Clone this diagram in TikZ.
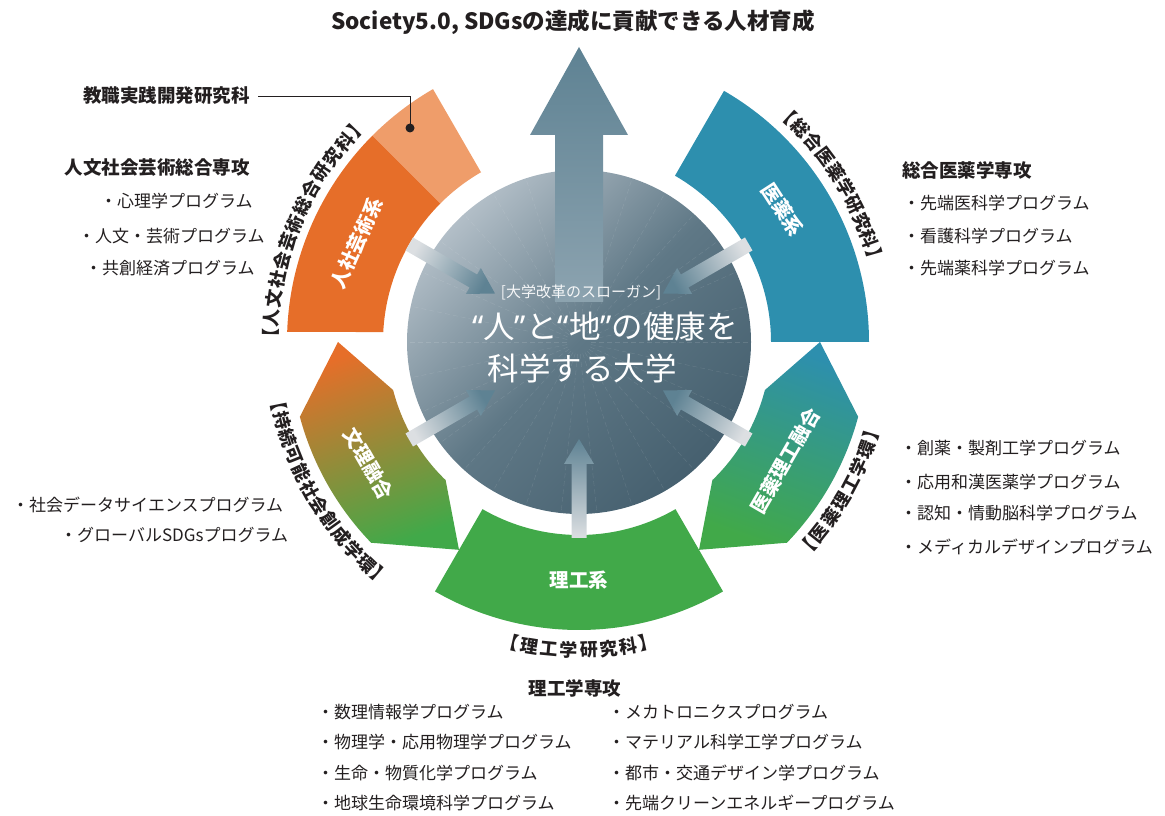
\documentclass[tikz,border=0pt]{standalone}
\usepackage{fontspec}
\setmainfont{Noto Sans CJK JP}
\newfontfamily\latinfont{Noto Sans}
\usetikzlibrary{calc}

\definecolor{orangec}{HTML}{E66E29}
\definecolor{lightorangec}{HTML}{EF9D6A}
\definecolor{bluec}{HTML}{2D8FAE}
\definecolor{greenc}{HTML}{41A949}
\definecolor{arrowc}{HTML}{5E8293}
\definecolor{stubc}{HTML}{DCDFE2}
\definecolor{txtc}{HTML}{231F20}
\definecolor{lightc}{HTML}{B2BEC7}
\definecolor{midc}{HTML}{5F7886}
\definecolor{darkc}{HTML}{46606F}

\tikzset{
  prog/.style={anchor=west, inner sep=0pt, text=txtc, font=\fontsize{17}{20}\selectfont},
  head/.style={inner sep=0pt, text=txtc, font=\bfseries\fontsize{18.5}{22}\selectfont},
  unit/.style={text=white, inner sep=0pt, font=\bfseries\fontsize{19.5}{22}\selectfont},
  ringchar/.style={inner sep=0pt, text=txtc, font=\bfseries\fontsize{18}{20}\selectfont},
}

% radius, first angle, signed step, rotation offset, characters
\newcommand{\ringlabel}[5]{%
  \foreach \c [count=\i from 0, evaluate=\i as \ang using #2+(#3)*\i] in {#5}
    \node[ringchar, rotate={\ang#4}] at (\ang:#1) {\c};}

\begin{document}
\begin{tikzpicture}[x=1pt, y=1pt]
  \useasboundingbox (0,0) rectangle (1165,816);

  % -=-=-=-=- TITLE -=-=-=-=-
  \node[head, font=\bfseries\fontsize{22.5}{26}\selectfont] (title) at (573,794) {Society5.0, SDGsの達成に貢献できる人材育成};

  \begin{scope}[shift={(579,474)}]
    % -=-=-=-=- SECTORS -=-=-=-=-
    \fill[orangec] (135:292) arc[start angle=135, end angle=178, radius=292]
      -- (177.1:196) arc[start angle=177.1, end angle=135, radius=196] -- cycle;
    \fill[lightorangec] (120:292) arc[start angle=120, end angle=135, radius=292]
      -- (135:196) arc[start angle=135, end angle=120, radius=196] -- cycle;
    \fill[bluec] (0:290) arc[start angle=0, end angle=60, radius=290]
      -- (60:192) arc[start angle=60, end angle=0, radius=192] -- cycle;
    \fill[greenc] (-120:288) arc[start angle=-120, end angle=-60, radius=288]
      -- (-60:193) arc[start angle=-60, end angle=-120, radius=193] -- cycle;
    \shade[top color=bluec, bottom color=greenc, shading angle=-20]
      (0:241) -- (-15:289) arc[start angle=-15, end angle=-44, radius=289]
      -- (-60:240) -- (-46:192) arc[start angle=-46, end angle=-14.5, radius=192] -- cycle;
    \shade[top color=orangec, bottom color=greenc, shading angle=20]
      (180:241) -- (195:289) arc[start angle=195, end angle=224, radius=289]
      -- (240:240) -- (226:192) arc[start angle=226, end angle=194.5, radius=192] -- cycle;

    % -=-=-=-=- CORE -=-=-=-=-
    \node[circle, minimum size=344pt, inner sep=0pt, top color=lightc, bottom color=darkc,
      middle color=midc, shading angle=45] (core) at (0,0) {};
    \foreach \a in {0,12,...,348}
      \draw[white, opacity=0.12, dash pattern=on 5pt off 3pt] (\a:12) -- (\a:170);

    % big arrow
    \shade[top color=arrowc, middle color=arrowc, bottom color=arrowc!45!lightc]
      (-24,40) -- (-24,207) -- (-49,207) -- (0,295) -- (49,207) -- (24,207) -- (24,40) -- cycle;

    % small arrows
    \foreach \a [evaluate=\a as \sa using \a-90] in {150,30,210,-30,-90}
      \shade[top color=stubc, middle color=arrowc!65!stubc, bottom color=arrowc, shading angle=\sa]
        ($(\a:196)+({\a+90}:7.5)$) -- ($(\a:122)+({\a+90}:7.5)$) -- ($(\a:122)+({\a+90}:15)$)
        -- (\a:97) -- ($(\a:122)+({\a-90}:15)$) -- ($(\a:122)+({\a-90}:7.5)$)
        -- ($(\a:196)+({\a-90}:7.5)$) -- cycle;

    % slogan
    \node[text=white!88!lightc, font=\fontsize{15}{18}\selectfont] (slogantag) at (2,50) {[大学改革のスローガン]};
    \node[text=white, font=\fontsize{31.5}{36}\selectfont] (slogan1) at (26,15)
      {{\latinfont “}人{\latinfont ”}と{\latinfont “}地{\latinfont ”}の健康を};
    \node[text=white, font=\fontsize{31.5}{36}\selectfont] (slogan2) at (3,-26) {科学する大学};

    % unit names
    \node[unit, rotate=66] (jinsha) at (156:243) {人社芸術系};
    \node[unit, rotate=-57] (iyaku) at (33:243) {医薬系};
    \node[unit, rotate=-60] (bunri) at (210:243) {文理融合};
    \node[unit, rotate=60] (iyakurikou) at (-30:238) {医薬理工融合};
    \node[unit] (rikou) at (-90:238) {理工系};

    % graduate schools along the ring
    \ringlabel{308}{179.1}{-3.6}{-90}{【,人,文,社,会,芸,術,総,合,研,究,科,】}
    \ringlabel{308}{47.5}{-3.5}{-90}{【,総,合,医,薬,学,研,究,科,】}
    \ringlabel{307}{-42.1}{3.6}{+90}{【,医,薬,理,工,学,環,】}
    \ringlabel{307}{191.25}{3.5}{+90}{【,持,続,可,能,社,会,創,成,学,環,】}
    \ringlabel{308}{-102.95}{3.7}{+90}{【,理,工,学,研,究,科,】}
  \end{scope}

  % -=-=-=-=- PROGRAMS -=-=-=-=-
  \node[head, anchor=east] (kyoshoku) at (250,720) {教職実践開発研究科};
  \coordinate (kdot) at (410,688);
  \draw[txtc, line width=0.8pt] ([xshift=8pt]kyoshoku.east) -| (kdot);
  \fill[txtc] (kdot) circle[radius=4.5];

  \node[head, anchor=east] (jinbun) at (250,648) {人文社会芸術総合専攻};
  \node[prog] (shinri) at (100,615) {・心理学プログラム};
  \node[prog] (geijutsu) at (78,580) {・人文・芸術プログラム};
  \node[prog] (kyoso) at (85,548) {・共創経済プログラム};

  \node[head, anchor=west] (sogo) at (902,646) {総合医薬学専攻};
  \node[prog] (sentani) at (903,613) {・先端医科学プログラム};
  \node[prog] (kango) at (903,580) {・看護科学プログラム};
  \node[prog] (sentanyaku) at (903,548) {・先端薬科学プログラム};

  \node[prog] (soyaku) at (900,368) {・創薬・製剤工学プログラム};
  \node[prog] (wakan) at (900,334) {・応用和漢医薬学プログラム};
  \node[prog] (ninchi) at (900,303) {・認知・情動脳科学プログラム};
  \node[prog] (medical) at (900,269) {・メディカルデザインプログラム};

  \node[prog] (datasci) at (12,311) {・社会データサイエンスプログラム};
  \node[prog] (global) at (60,281) {・グローバルSDGsプログラム};

  \node[head] (rikosenko) at (575,128) {理工学専攻};
  \node[prog] (suri) at (317,104) {・数理情報学プログラム};
  \node[prog] (butsuri) at (317,74) {・物理学・応用物理学プログラム};
  \node[prog] (seimei) at (317,43) {・生命・物質化学プログラム};
  \node[prog] (chikyu) at (317,13) {・地球生命環境科学プログラム};
  \node[prog] (mecha) at (608,104) {・メカトロニクスプログラム};
  \node[prog] (material) at (608,74) {・マテリアル科学工学プログラム};
  \node[prog] (toshi) at (608,43) {・都市・交通デザイン学プログラム};
  \node[prog] (clean) at (608,13) {・先端クリーンエネルギープログラム};
\end{tikzpicture}
\end{document}
